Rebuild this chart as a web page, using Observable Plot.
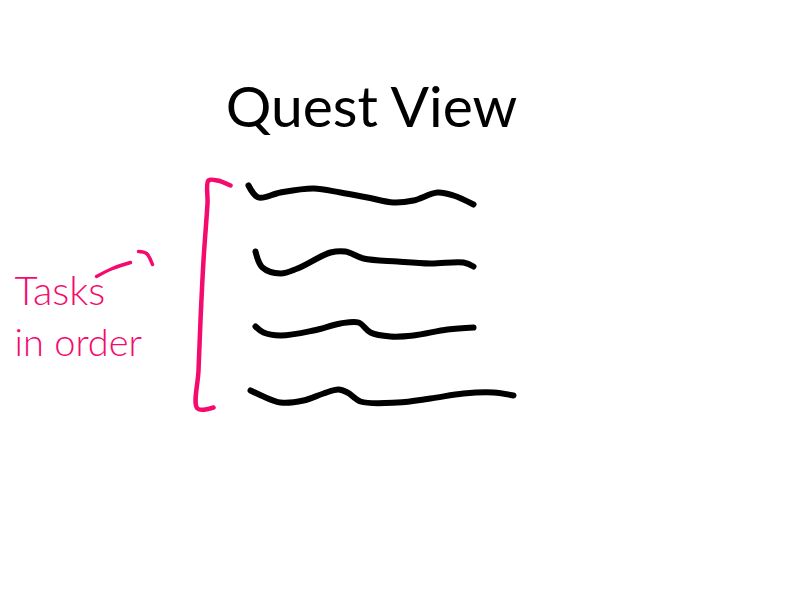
<!DOCTYPE html>
<html>
<head>
<meta charset="utf-8">
<script src="https://cdn.jsdelivr.net/npm/d3@7"></script>
<script src="https://cdn.jsdelivr.net/npm/@observablehq/plot@0.6"></script>
<style>
  html, body { margin: 0; padding: 0; background: #fff; }
</style>
</head>
<body>
<div id="chart"></div>
<script>
// Hand-drawn squiggles (task placeholders)
const task1 = [[248,185],[258,197],[280,192],[313,188],[340,192],[367,197],[393,202],[413,200],[437,192],[453,195],[473,204]];
const task2 = [[255,251],[262,267],[280,273],[297,268],[330,252],[345,251],[363,258],[397,261],[430,263],[463,262],[473,266]];
const task3 = [[255,326],[263,332],[280,335],[313,330],[340,323],[358,322],[370,332],[390,336],[413,335],[447,329],[473,327]];
const task4 = [[250,390],[263,396],[280,402],[303,400],[323,393],[338,389],[347,392],[360,401],[397,402],[430,398],[463,393],[493,392],[513,395]];
// Pink bracket and arrow
const bracket = [[230,185],[217,180],[208,180],[207,203],[203,260],[200,320],[198,370],[197,408],[213,407]];
const arrow = [[96,276],[112,268],[130,262]];
const arrowHook = [[138,251],[146,253],[152,264]];
// Text labels
const title = "Quest View";
const labelLines = ["Tasks", "in order"];

const tasks = [task1, task2, task3, task4].flatMap((pts, i) => pts.map(([x, y]) => ({x, y, task: i + 1})));
const pts = a => a.map(([x, y]) => ({x, y}));
const pink = "#f50a6e";

const chart = Plot.plot({
  width: 800,
  height: 600,
  margin: 0,
  x: {domain: [0, 800], range: [0, 800], axis: null},
  y: {domain: [0, 600], range: [0, 600], axis: null},
  marks: [
    Plot.line(tasks, {x: "x", y: "y", z: "task", stroke: "black", strokeWidth: 6, curve: "catmull-rom", strokeLinecap: "round", strokeLinejoin: "round"}),
    Plot.line(pts(bracket), {x: "x", y: "y", stroke: pink, strokeWidth: 4.5, curve: "catmull-rom", strokeLinecap: "round"}),
    Plot.line(pts(arrow), {x: "x", y: "y", stroke: pink, strokeWidth: 3.5, curve: "catmull-rom", strokeLinecap: "round"}),
    Plot.line(pts(arrowHook), {x: "x", y: "y", stroke: pink, strokeWidth: 3.5, curve: "catmull-rom", strokeLinecap: "round"}),
    Plot.text([title], {x: 371, y: 108, text: d => d, fontSize: 57, fontFamily: "Lato", fontWeight: 400, fill: "black", textAnchor: "middle", lineAnchor: "middle"}),
    Plot.text([labelLines[0]], {x: 14, y: 304, text: d => d, fontSize: 40, fontFamily: "Lato", fontWeight: 300, fill: pink, textAnchor: "start", lineAnchor: "bottom"}),
    Plot.text([labelLines[1]], {x: 14, y: 343, text: d => d, fontSize: 38, fontFamily: "Lato", fontWeight: 300, fill: pink, textAnchor: "start", lineAnchor: "middle"})
  ]
});
document.getElementById("chart").appendChild(chart);
</script>
</body>
</html>
